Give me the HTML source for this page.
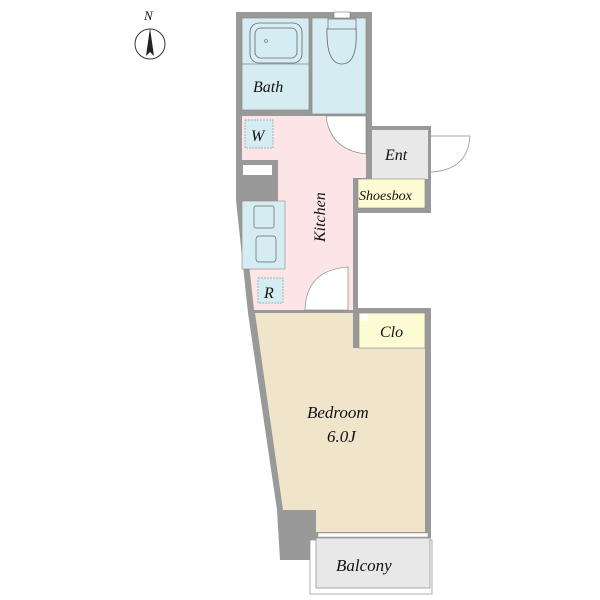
<!DOCTYPE html>
<html><head><style>body{margin:0;background:#fff}svg{display:block}text{font-family:"Liberation Serif",serif;font-style:italic;fill:#111}</style></head><body>
<svg width="600" height="600" viewBox="0 0 600 600">
<!-- compass -->
<text x="144" y="20" font-size="13">N</text>
<circle cx="150" cy="44" r="15" fill="none" stroke="#333" stroke-width="1"/>
<polygon points="150,28 146,56 150,52 154,56" fill="#222"/>
<!-- outer wall fill -->
<polygon points="236,12 372,12 372,126 431,126 431,213 358,213 358,308 431,308 431,538 316,538 316,560 280,560 277,510 248,313 236,200" fill="#999" />
<!-- bath -->
<rect x="242" y="18" width="67" height="92" fill="#d5ecf2" stroke="#888" stroke-width="0.7"/>
<rect x="250" y="23" width="52" height="40" rx="9" fill="none" stroke="#666" stroke-width="0.8"/>
<rect x="255" y="28" width="42" height="30" rx="6" fill="none" stroke="#666" stroke-width="0.8"/>
<circle cx="266" cy="41" r="1.5" fill="none" stroke="#666" stroke-width="0.6"/>
<line x1="242" y1="64" x2="309" y2="64" stroke="#888" stroke-width="0.7"/>
<text x="253" y="92" font-size="16">Bath</text>
<!-- toilet -->
<rect x="312" y="18" width="54" height="96" fill="#d5ecf2" stroke="#888" stroke-width="0.7"/>
<rect x="334" y="12" width="16" height="6" fill="#fff" stroke="#777" stroke-width="0.6"/>
<rect x="328" y="19" width="28" height="10" fill="none" stroke="#666" stroke-width="0.7"/>
<path d="M327,28 Q326,64 342,64 Q358,64 356,28" fill="none" stroke="#666" stroke-width="0.8"/>
<!-- kitchen -->
<polygon points="242,116 366,116 366,178 353,178 353,310 254,310 242,200" fill="#fde4e7"/>
<path d="M326,116 L366,116 L366,154 Q330,150 326,116 Z" fill="#fff" stroke="#777" stroke-width="0.6"/>
<path d="M305,310 L348,310 L348,267 Q306,270 305,310 Z" fill="#fff" stroke="#777" stroke-width="0.6"/>
<rect x="245" y="120" width="28" height="28" fill="#d5ecf2" stroke="#7aa" stroke-width="0.7" stroke-dasharray="2,1"/>
<text x="251" y="141" font-size="16">W</text>
<rect x="236" y="160" width="42" height="41" fill="#999"/>
<rect x="243" y="165" width="29" height="10" fill="#fff"/>
<rect x="242" y="201" width="43" height="68" fill="#d5ecf2" stroke="#888" stroke-width="0.6"/>
<rect x="254" y="206" width="20" height="22" rx="2" fill="none" stroke="#666" stroke-width="0.7"/>
<rect x="256" y="236" width="20" height="26" rx="3" fill="none" stroke="#666" stroke-width="0.7"/>
<rect x="258" y="278" width="25" height="25" fill="#d5ecf2" stroke="#7aa" stroke-width="0.7" stroke-dasharray="2,1"/>
<text x="264" y="298" font-size="16">R</text>
<text font-size="16" transform="translate(325,242) rotate(-90)">Kitchen</text>
<!-- ent -->
<rect x="372" y="130" width="56" height="49" fill="#e8e8e8"/>
<path d="M431,136 L470,136 Q468,170 431,172" fill="none" stroke="#888" stroke-width="0.7"/>
<text x="385" y="160" font-size="16">Ent</text>
<rect x="358" y="179" width="67" height="29" fill="#fdfbd3" stroke="#888" stroke-width="0.6"/>
<text x="359" y="200" font-size="14">Shoesbox</text>
<!-- bedroom -->
<polygon points="255,313 353,313 353,348 425,348 425,532 316,532 316,510 283,510" fill="#f0e5cb"/>
<rect x="359" y="313" width="66" height="35" fill="#fdfbd3" stroke="#888" stroke-width="0.6"/>
<rect x="361" y="314" width="7" height="7" fill="#fff"/>
<text x="380" y="337" font-size="16">Clo</text>
<text x="307" y="418" font-size="17">Bedroom</text>
<text x="327" y="442" font-size="17">6.0J</text>
<!-- balcony -->
<rect x="310" y="540" width="122" height="54" fill="#fff" stroke="#999" stroke-width="0.8"/>
<rect x="316" y="538" width="114" height="50" fill="#e8e8e8" stroke="#999" stroke-width="0.8"/>
<rect x="318" y="533" width="110" height="4" fill="#fff" stroke="#999" stroke-width="0.5"/>
<text x="336" y="571" font-size="17">Balcony</text>
</svg>
</body></html>
